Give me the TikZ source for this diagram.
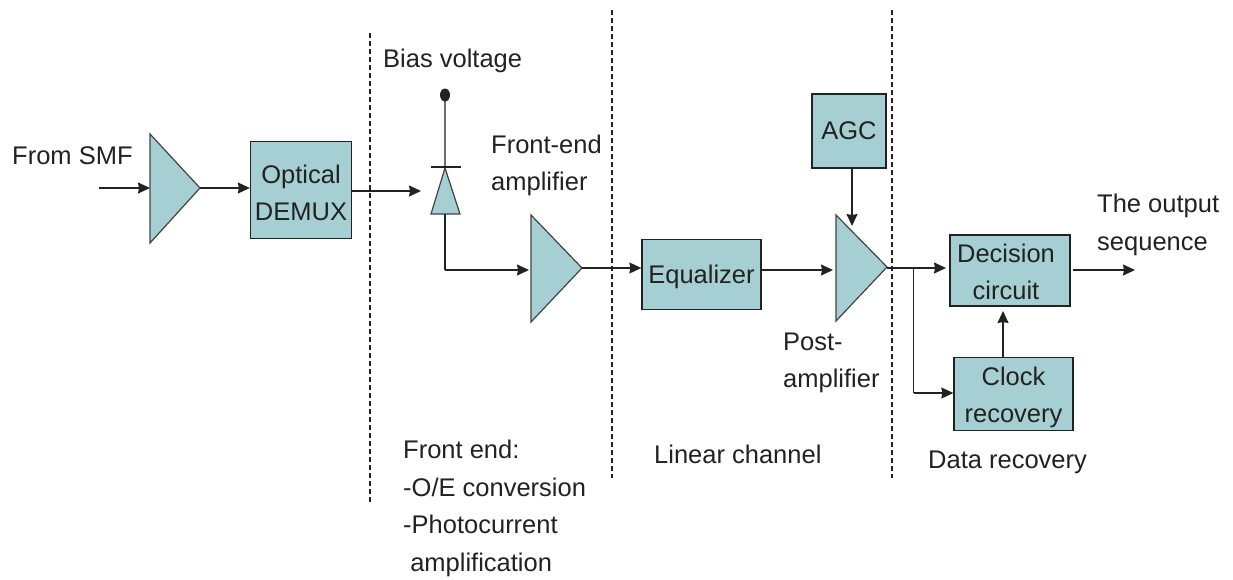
\documentclass[tikz,border=0pt]{standalone}
\usepackage{fontspec}
\setmainfont{Liberation Sans}
\usetikzlibrary{arrows.meta}
\definecolor{boxfill}{HTML}{A6CFD3}
\definecolor{ink}{HTML}{222222}
\newcommand{\pushdown}[1]{\rule{0pt}{#1pt}}
\tikzset{
  x=1pt,y=-1pt,
  block/.style={draw=ink,fill=boxfill,line width=1.3pt,inner sep=0pt,align=center,font=\fontsize{25.5}{37}\selectfont,text=ink},
  amp/.style={draw=ink!85,fill=boxfill,line width=1.2pt,line join=miter},
  wire/.style={draw=ink,line width=1.4pt},
  arrow/.style={wire,-{Stealth[length=12pt,width=11pt,inset=1pt]}},
  sep/.style={draw=ink,line width=1.1pt,dash pattern=on 5pt off 3pt},
  label/.style={inner sep=0pt,align=left,font=\fontsize{25.5}{37}\selectfont,text=ink},
}
\begin{document}
\begin{tikzpicture}
\useasboundingbox[fill=white] (0,0) rectangle (1233,579);
% separators
\coordinate (s1a) at (370,33); \coordinate (s1b) at (370,503);
\coordinate (s2a) at (612,10); \coordinate (s2b) at (612,478);
\coordinate (s3a) at (892,10); \coordinate (s3b) at (892,478);
\draw[sep] (s1a) -- (s1b);
\draw[sep] (s2a) -- (s2b);
\draw[sep] (s3a) -- (s3b);
% blocks
\node[block,minimum width=101pt,minimum height=97pt] (demux) at (301,190) {\pushdown{24.5}Optical\\DEMUX};
\node[block,minimum width=119pt,minimum height=70pt] (eq) at (701.5,274.5) {\pushdown{22.5}Equalizer};
\node[block,minimum width=74pt,minimum height=74pt] (agc) at (849,131) {AGC};
\node[block,minimum width=120pt,minimum height=71pt] (dec) at (1010,270.5) {\hspace*{-8pt}\pushdown{20.5}Decision\\\hspace*{-8pt}circuit};
\node[block,minimum width=119pt,minimum height=73pt] (clk) at (1013.5,394) {\pushdown{24.5}Clock\\recovery};
% amplifiers
\draw[amp] (150,134) -- (200,188) -- (150,243) -- cycle;
\coordinate (a1in) at (150,188); \coordinate (a1out) at (200,188);
\draw[amp] (531,215) -- (582,268) -- (531,322) -- cycle;
\coordinate (a2in) at (529,270); \coordinate (a2out) at (582,268);
\draw[amp] (836,215) -- (887,267) -- (836,321) -- cycle;
\coordinate (a3in) at (833,270); \coordinate (a3out) at (887,268); \coordinate (a3top) at (852,226);
% photodiode
\coordinate (bias) at (445,95);
\coordinate (pdtop) at (445,167);
\coordinate (pdbot) at (445,214);
\coordinate (pdcorner) at (445,270);
\draw[wire,draw=ink!65] (bias) -- (pdtop);
\fill[ink] (bias) ellipse (5pt and 6.5pt);
\draw[amp] (445,168) -- (460,214) -- (431,214) -- cycle;
\draw[wire] (431,167) -- (461,167);
% connectors
\coordinate (start) at (99,188);
\draw[arrow] (start) -- (a1in);
\draw[arrow] (a1out) -- (demux.west|-a1out);
\coordinate (pdin) at (421,191);
\draw[arrow] (demux.east|-pdin) -- (pdin);
\draw[wire] (pdbot) -- (pdcorner);
\draw[arrow] (pdcorner) -- (a2in);
\draw[arrow] (a2out) -- (eq.west|-a2out);
\draw[arrow] (eq.east|-a3in) -- (a3in);
\draw[arrow] (agc.south-|852,0) -- (a3top);
\coordinate (split) at (913.5,268);
\coordinate (decin) at (946,268);
\draw[arrow] (a3out) -- (decin);
\coordinate (splitb) at (913.5,393);
\draw[wire] (split) -- (splitb);
\draw[arrow] (splitb) -- (clk.west|-splitb);
\coordinate (clkup) at (1003,311);
\draw[arrow] (clk.north-|clkup) -- (clkup);
\coordinate (outstart) at (1073,270);
\coordinate (outend) at (1135,270);
\draw[arrow] (outstart) -- (outend);
% labels
\node[label,anchor=west] (l1) at (12,156) {From SMF};
\node[label,anchor=west] (l2) at (383,61) {Bias voltage};
\node[label,anchor=west] (l3) at (491,165.5) {Front-end\\amplifier};
\node[label,anchor=west] (l4) at (783,363) {Post-\\amplifier};
\node[label,anchor=west,font=\fontsize{25.5}{38.5}\selectfont] (l5) at (1097,225) {The output\\sequence};
\node[label,anchor=west] (l6) at (654,454) {Linear channel};
\node[label,anchor=west] (l7) at (928,462) {Data recovery};
\node[label,anchor=west,font=\fontsize{25.5}{37.7}\selectfont] (l8) at (403,508.5) {Front end:\\-O/E conversion\\-Photocurrent\\\ amplification};
\end{tikzpicture}
\end{document}
